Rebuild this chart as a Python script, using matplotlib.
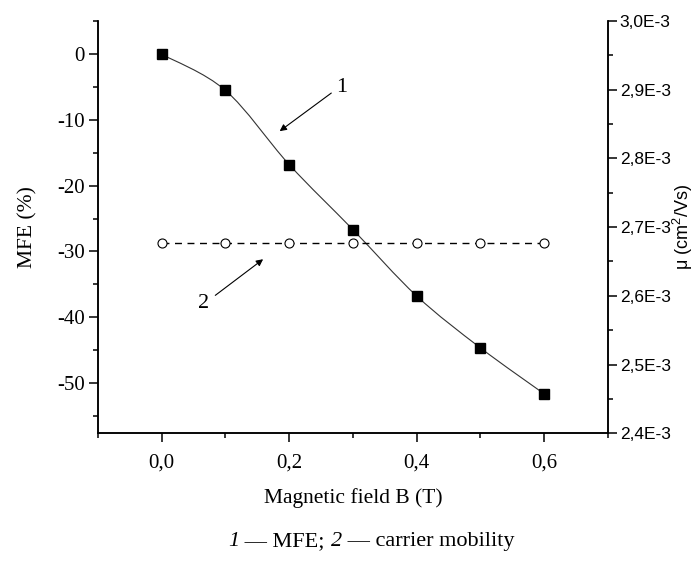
import numpy as np
import matplotlib
matplotlib.use("Agg")
from matplotlib import pyplot as plt
from matplotlib.path import Path
from matplotlib.patches import PathPatch
from matplotlib.ticker import MultipleLocator, FuncFormatter

# data
field_b = [0.0, 0.1, 0.2, 0.3, 0.4, 0.5, 0.6]
mfe = [0.0, -5.5, -16.8, -26.7, -36.8, -44.7, -51.7]
mobility = [2.677e-3, 2.677e-3, 2.677e-3, 2.677e-3, 2.677e-3, 2.677e-3, 2.677e-3]

plt.rcParams['axes.unicode_minus'] = False
plt.rcParams['mathtext.fontset'] = 'custom'
plt.rcParams['mathtext.rm'] = 'Liberation Sans'
plt.rcParams['mathtext.sf'] = 'Liberation Sans'
serif = 'Liberation Serif'
sans = 'Liberation Sans'

fig = plt.figure(figsize=(6.98, 5.62), dpi=100)
ax = fig.add_axes([0.1404, 0.229, 0.7306, 0.734])
ax2 = ax.twinx()

# smooth curve through the squares (Catmull-Rom as Bezier segments)
pts = np.column_stack([field_b, mfe])
ext = np.vstack([pts[0], pts, pts[-1]])
verts = [tuple(pts[0])]
codes = [Path.MOVETO]
for i in range(1, len(ext) - 2):
    p0, p1, p2, p3 = ext[i - 1], ext[i], ext[i + 1], ext[i + 2]
    c1 = p1 + (p2 - p0) / 6
    c2 = p2 - (p3 - p1) / 6
    verts += [tuple(c1), tuple(c2), tuple(p2)]
    codes += [Path.CURVE4] * 3
ax.add_patch(PathPatch(Path(verts, codes), facecolor='none', edgecolor='#333333', lw=0.8))
ax.plot(field_b, mfe, 's', color='black', markersize=6.5, zorder=3)

ax2.plot(field_b, mobility, '--', color='black', lw=1.0, dashes=(5, 4),
         marker='o', markersize=6.5, markerfacecolor='white',
         markeredgecolor='black', markeredgewidth=0.8)

ax.set_xlim(-0.1, 0.7)
ax.set_ylim(-57.7, 5.1)
ax2.set_ylim(2.4e-3, 3.0e-3)

ax.xaxis.set_major_locator(MultipleLocator(0.2))
ax.xaxis.set_minor_locator(MultipleLocator(0.1))
ax.yaxis.set_major_locator(MultipleLocator(10))
ax.yaxis.set_minor_locator(MultipleLocator(5))
ax2.yaxis.set_major_locator(MultipleLocator(1e-4))
ax2.yaxis.set_minor_locator(MultipleLocator(5e-5))

ax.xaxis.set_major_formatter(FuncFormatter(lambda v, p: f"{v:.1f}".replace('.', ',')))
ax.yaxis.set_major_formatter(FuncFormatter(lambda v, p: f"{int(round(v))}"))
ax2.yaxis.set_major_formatter(FuncFormatter(lambda v, p: f"{v * 1e3:.1f}".replace('.', ',') + "E-3"))

for a in (ax, ax2):
    a.spines['top'].set_visible(False)
    for s in a.spines.values():
        s.set_linewidth(1.1)
    a.tick_params(which='major', direction='out', length=6.5, width=1.1)
    a.tick_params(which='minor', direction='out', length=3.6, width=1.1)

for lab in ax.get_xticklabels() + ax.get_yticklabels():
    lab.set_fontfamily(serif)
    lab.set_fontsize(15)
for lab in ax2.get_yticklabels():
    lab.set_fontfamily(sans)
    lab.set_fontsize(12.5)
ax.tick_params(axis='x', pad=8)
ax.tick_params(axis='y', pad=3)
ax2.tick_params(axis='y', pad=2)

ax.set_xlabel('Magnetic field B (T)', fontfamily=serif, fontsize=15.5, labelpad=11)
ax.set_ylabel('MFE (%)', fontfamily=serif, fontsize=15.5, labelpad=14)
ax2.set_ylabel(r'μ (cm$^{\mathsf{2}}$/Vs)', fontfamily=sans, fontsize=13, labelpad=0)

# curve labels with arrows
ax.annotate('', xy=(0.185, -11.7), xytext=(0.266, -5.9),
            arrowprops=dict(arrowstyle='-|>', color='black', lw=0.8,
                            mutation_scale=10, shrinkA=0, shrinkB=0))
ax.text(0.283, -5.0, '1', fontfamily=serif, fontsize=16, ha='center', va='center')
ax.annotate('', xy=(0.159, -31.2), xytext=(0.084, -36.7),
            arrowprops=dict(arrowstyle='-|>', color='black', lw=0.8,
                            mutation_scale=10, shrinkA=0, shrinkB=0))
ax.text(0.065, -37.9, '2', fontfamily=serif, fontsize=16, ha='center', va='center')

# caption, numbers in italic
cap = dict(fontfamily=serif, fontsize=16, va='baseline')
t1 = fig.text(0.327, 0.028, '1', style='italic', **cap)
t2 = fig.text(0, 0, ' — MFE; ', **cap)
t3 = fig.text(0, 0, '2', style='italic', **cap)
t4 = fig.text(0, 0, ' — carrier mobility', **cap)
fig.canvas.draw()
prev = t1
for t in (t2, t3, t4):
    bb = prev.get_window_extent()
    x = fig.transFigure.inverted().transform((bb.x1, 0))[0]
    t.set_position((x, 0.028))
    fig.canvas.draw()
    prev = t

fig.savefig('out.png', dpi=100)
